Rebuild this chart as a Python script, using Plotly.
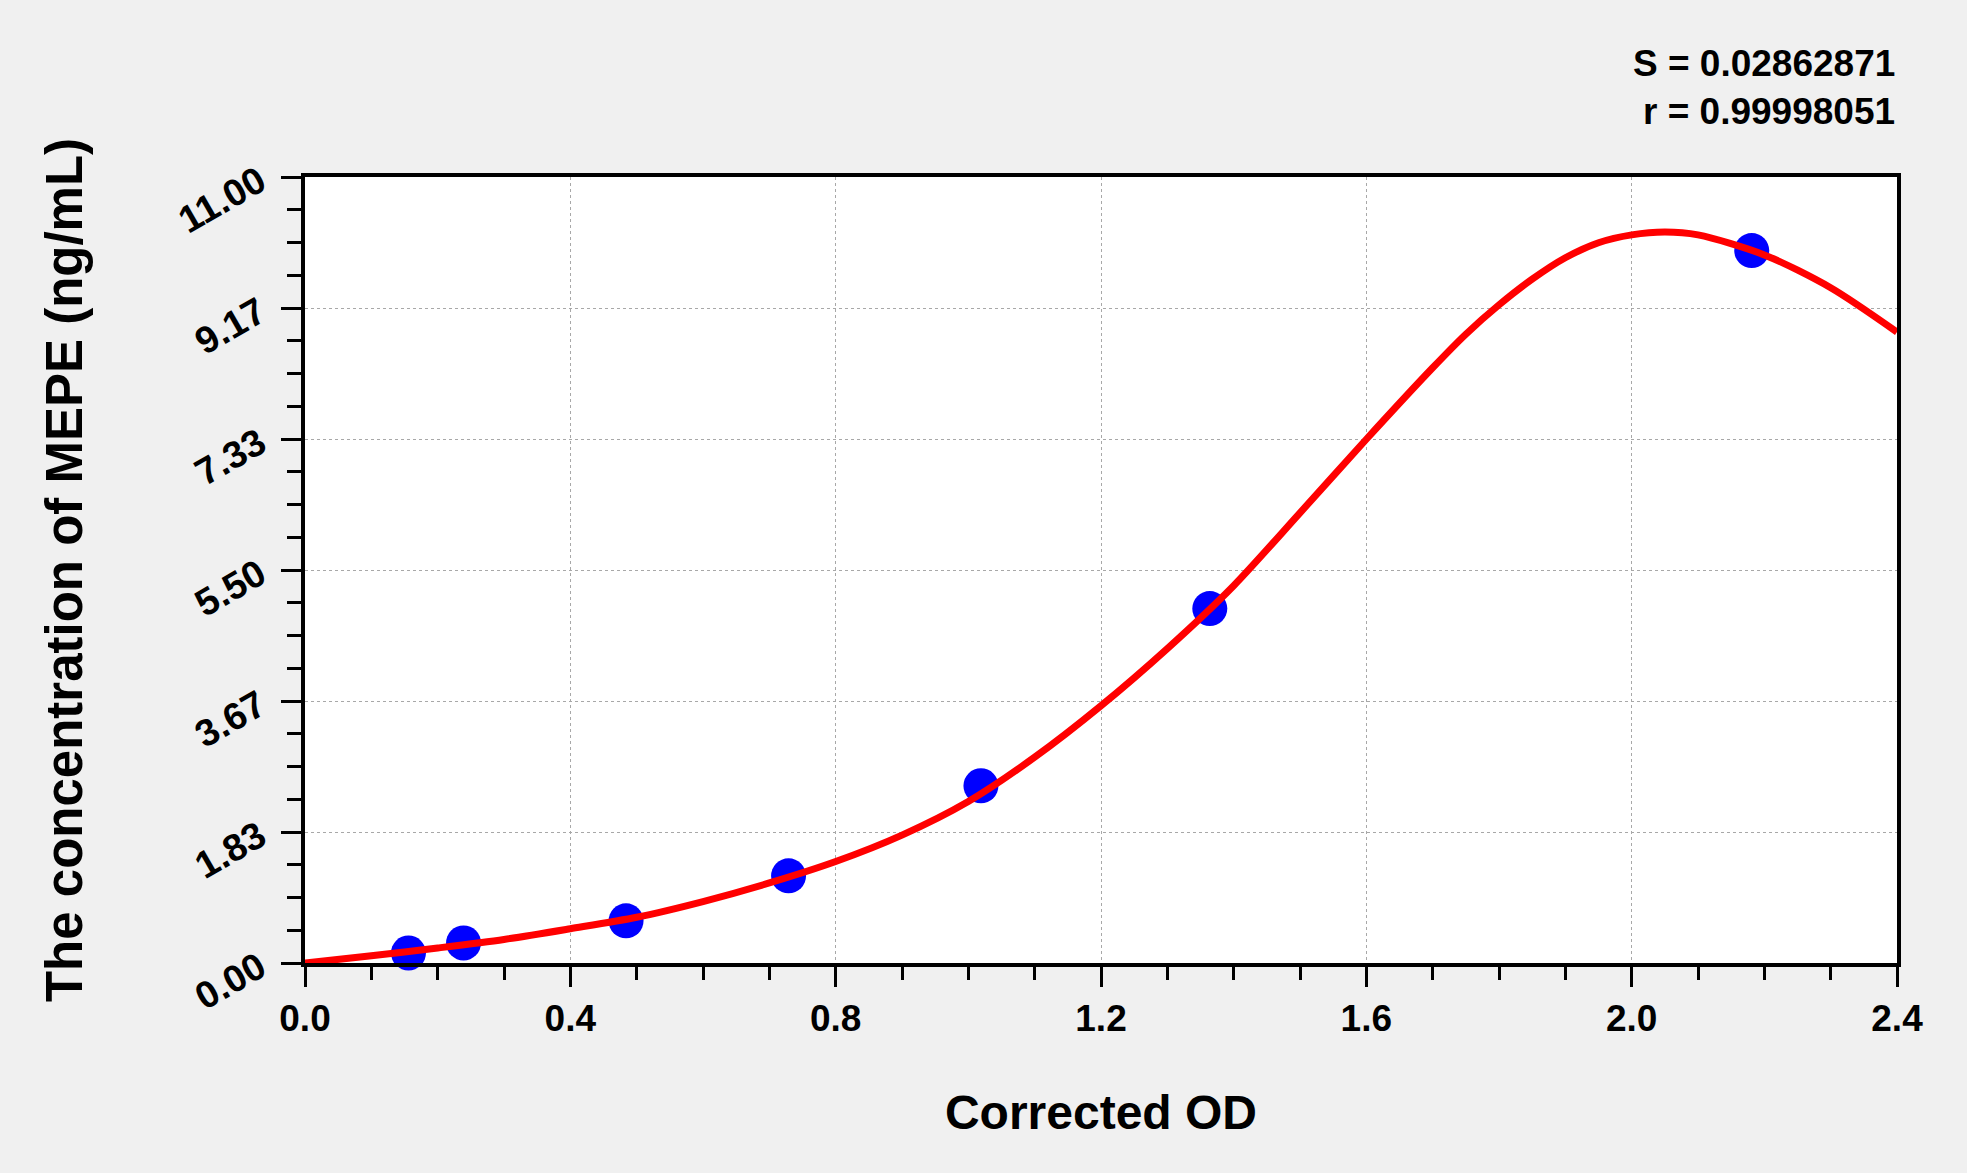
import plotly.graph_objects as go

# standard points (corrected OD vs concentration)
od_points = [0.156, 0.239, 0.484, 0.729, 1.019, 1.364, 2.181]
conc_points = [0.14, 0.28, 0.59, 1.22, 2.48, 4.96, 9.97]

# fitted curve
curve_od = [0.0, 0.1, 0.2, 0.3, 0.4, 0.5, 0.6, 0.7, 0.8, 0.9, 1.0, 1.1, 1.2,
            1.3, 1.4, 1.5, 1.6, 1.7, 1.75, 1.8, 1.85, 1.9, 1.95, 2.0, 2.05, 2.1,
            2.2, 2.3, 2.4]
curve_conc = [0.00, 0.10, 0.21, 0.33, 0.48, 0.64, 0.86, 1.12, 1.42, 1.79, 2.26, 2.88, 3.60,
              4.40, 5.28, 6.30, 7.33, 8.33, 8.80, 9.21, 9.57, 9.87, 10.08, 10.19, 10.23, 10.19,
              9.91, 9.45, 8.83]

y_ticks = [0, 1.8333, 3.6667, 5.5, 7.3333, 9.1667, 11]
y_tick_labels = ["0.00", "1.83", "3.67", "5.50", "7.33", "9.17", "11.00"]

stats_lines = ["S = 0.02862871", "r = 0.99998051"]

FONT = "Arial, Liberation Sans, sans-serif"

fig = go.Figure()

fig.add_trace(go.Scatter(
    x=od_points, y=conc_points, mode="markers",
    marker=dict(color="#0000ff", size=35, line=dict(width=0)),
    showlegend=False, cliponaxis=False
))

# red line drawn over the markers
fig.add_trace(go.Scatter(
    x=curve_od, y=curve_conc, mode="lines",
    line=dict(color="#ff0000", width=7, shape="spline", smoothing=0.8),
    showlegend=False, cliponaxis=False
))

fig.update_layout(
    width=1967, height=1173,
    margin=dict(l=305, r=70, t=177, b=210),
    paper_bgcolor="#f0f0f0",
    plot_bgcolor="#ffffff",
    font=dict(family=FONT, color="#000000"),
)

axis_common = dict(
    showline=True, linecolor="#000000", linewidth=4, mirror=True,
    ticks="outside", ticklen=20, tickwidth=3, tickcolor="#000000",
    showgrid=True, gridcolor="#a8a8a8", gridwidth=1, griddash="3px,3px",
    zeroline=False,
)

fig.update_xaxes(
    range=[0, 2.4], tick0=0, dtick=0.4, tickformat=".1f",
    tickfont=dict(size=37, family=FONT, weight="bold"),
    minor=dict(tick0=0, dtick=0.1, ticks="outside", ticklen=13, tickwidth=3,
               tickcolor="#000000", showgrid=False),
    title=dict(text="Corrected OD", font=dict(size=48, family=FONT, weight="bold"), standoff=58),
    **axis_common
)

fig.update_yaxes(
    range=[0, 11], tickmode="array", tickvals=y_ticks, ticktext=y_tick_labels,
    tickangle=-30, ticklabelstandoff=14,
    tickfont=dict(size=38, family=FONT, weight="bold"),
    minor=dict(tickmode="linear", tick0=0, dtick=11 / 24, ticks="outside", ticklen=14,
               tickwidth=3, tickcolor="#000000", showgrid=False),
    title=dict(text="The concentration of MEPE (ng/mL)",
               font=dict(size=51, family=FONT, weight="bold"), standoff=74),
    **axis_common
)

for i, line in enumerate(stats_lines):
    fig.add_annotation(
        text=line, xref="paper", yref="paper", x=1.0, y=[1.144, 1.083][i],
        xanchor="right", yanchor="middle", showarrow=False,
        font=dict(size=37, family=FONT, weight="bold", color="#000000")
    )

fig.write_html("out.html", config={"displayModeBar": False},
               post_script="document.body.style.margin='0';")
